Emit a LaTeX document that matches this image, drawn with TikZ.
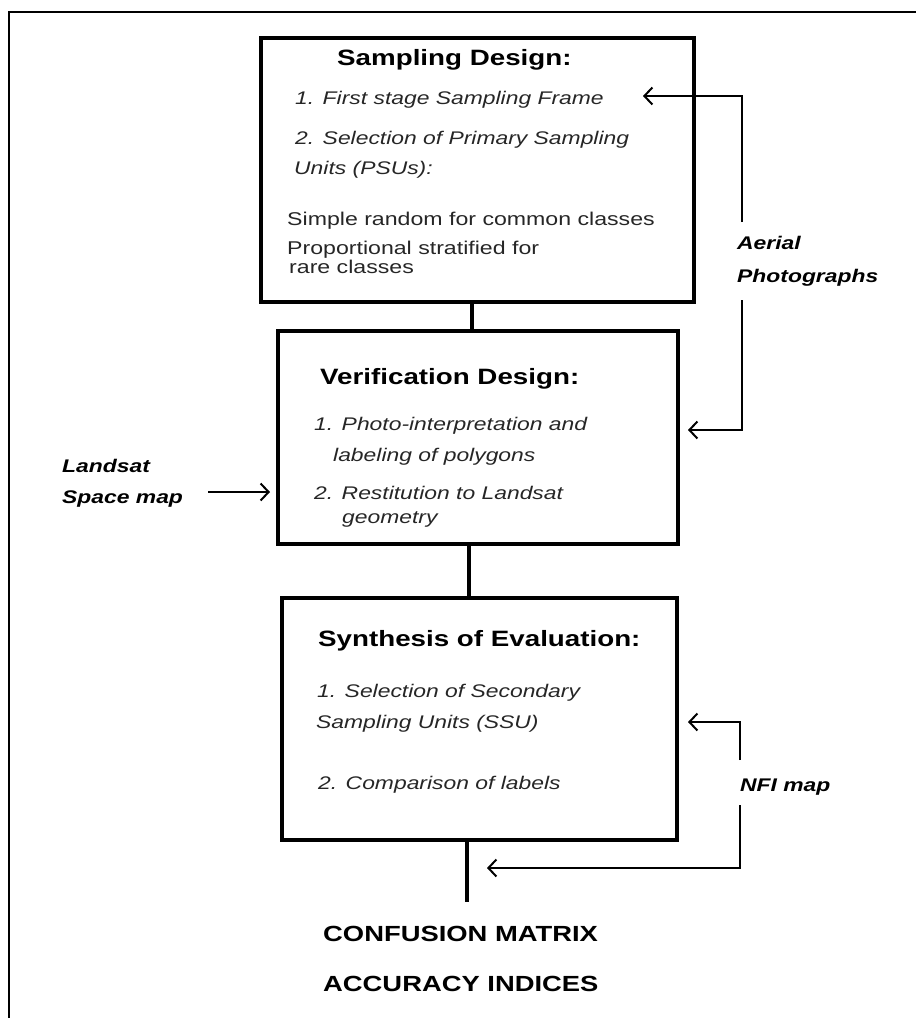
\documentclass[tikz,border=0pt]{standalone}
\usepackage{fontspec}
\setmainfont{Liberation Sans}[FakeStretch=1.25]
\usetikzlibrary{arrows.meta}
\definecolor{txt}{gray}{0.15}
\tikzset{
  stagebox/.style={draw=black, line width=4pt, fill=none, inner sep=0pt},
  stem/.style={line width=4.5pt},
  conn/.style={line width=2pt, -{Straight Barb[length=8pt,width=17pt,line width=2pt]}},
  frame/.style={line width=2.2pt},
  ttl/.style={inner sep=0pt, anchor=base west, font=\fontsize{22.2}{26}\selectfont\bfseries, text=black},
  itm/.style={inner sep=0pt, anchor=base west, font=\fontsize{18.3}{22}\selectfont\itshape, text=txt},
  reg/.style={inner sep=0pt, anchor=base west, font=\fontsize{18.5}{22}\selectfont, text=txt},
  src/.style={inner sep=0pt, anchor=base west, font=\fontsize{18.3}{22}\selectfont\bfseries\itshape, text=black},
  outl/.style={inner sep=0pt, anchor=base west, font=\fontsize{21.9}{26}\selectfont\bfseries, text=black},
}
\begin{document}
\begin{tikzpicture}[x=1pt,y=-1pt]
\useasboundingbox (0,0) rectangle (916,1018);
% outer frame
\coordinate (fTL) at (9,12);
\coordinate (fTR) at (916,12);
\coordinate (fBL) at (9,1018);
\draw[frame] (fTR) -- (fTL) -- (fBL);

% boxes
\node[stagebox, minimum width=433pt, minimum height=264pt] (b1) at (477.5,170) {};
\node[stagebox, minimum width=400pt, minimum height=213pt] (b2) at (478,437.5) {};
\node[stagebox, minimum width=395pt, minimum height=242pt] (b3) at (479.5,719) {};

% stems
\draw[stem] (b1.south -| 472,0) -- (b2.north -| 472,0);
\draw[stem] (b2.south -| 469,0) -- (b3.north -| 469,0);
\coordinate (out) at (467,902);
\draw[stem] (b3.south -| out) -- (out);

% box 1 text
\node[ttl] (t1) at (337,65) {Sampling Design:};
\node[itm] (t1a) at (295,104.5) {1. First stage Sampling Frame};
\node[itm] (t1b) at (295,144.5) {2. Selection of Primary Sampling};
\node[itm] (t1c) at (294,174.5) {Units (PSUs):};
\node[reg] (t1d) at (287,225.5) {Simple random for common classes};
\node[reg] (t1e) at (287,254.5) {Proportional stratified for};
\node[reg] (t1f) at (289,273.5) {rare classes};

% box 2 text
\node[ttl] (t2) at (320,384) {Verification Design:};
\node[itm] (t2a) at (314,430.5) {1. Photo-interpretation and};
\node[itm] (t2b) at (333,461) {labeling of polygons};
\node[itm] (t2c) at (314,499.5) {2. Restitution to Landsat};
\node[itm] (t2d) at (342,523) {geometry};

% box 3 text
\node[ttl] (t3) at (318,646) {Synthesis of Evaluation:};
\node[itm] (t3a) at (317,697.5) {1. Selection of Secondary};
\node[itm] (t3b) at (316,728.5) {Sampling Units (SSU)};
\node[itm] (t3c) at (318,789.5) {2. Comparison of labels};

% outputs
\node[outl] (o1) at (323,941) {CONFUSION MATRIX};
\node[outl] (o2) at (323,991) {ACCURACY INDICES};

% sources
\node[src] (ae1) at (737,249.5) {Aerial};
\node[src] (ae2) at (737,282.5) {Photographs};
\node[src] (ls1) at (62,472.5) {Landsat};
\node[src] (ls2) at (62,503.5) {Space map};
\node[src] (nfi) at (740,791.5) {NFI map};

% aerial connectors
\coordinate (aTop) at (742,222);
\coordinate (aTip1) at (643,96);
\draw[conn] (aTop) |- (aTip1);
\coordinate (aBot) at (742,300);
\coordinate (aTip2) at (688,430);
\draw[conn] (aBot) |- (aTip2);

% landsat connector
\coordinate (lsStart) at (208,492);
\coordinate (lsTip) at (270,492);
\draw[conn] (lsStart) -- (lsTip);

% NFI connectors
\coordinate (nTop) at (740,760);
\coordinate (nTip1) at (688,722);
\draw[conn] (nTop) |- (nTip1);
\coordinate (nBot) at (740,805);
\coordinate (nTip2) at (487,868);
\draw[conn] (nBot) |- (nTip2);
\end{tikzpicture}
\end{document}
